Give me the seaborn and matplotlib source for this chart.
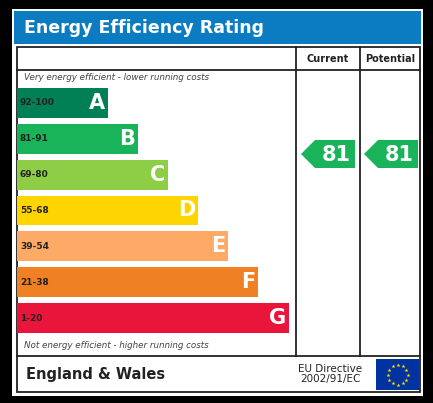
import matplotlib
matplotlib.use('Agg')
from matplotlib import pyplot as plt
from matplotlib.patches import Rectangle, Polygon
import seaborn as sns
import numpy as np

bands = ['A', 'B', 'C', 'D', 'E', 'F', 'G']
ranges = ['92-100', '81-91', '69-80', '55-68', '39-54', '21-38', '1-20']
bar_len = [91, 121, 151, 181, 211, 241, 272]
colors = ['#008054', '#19b459', '#8dce46', '#ffd500', '#fcaa65', '#ef8023', '#e9153b']
current = 81
potential = 81

W, H = 433, 403
fig = plt.figure(figsize=(W / 100, H / 100), dpi=100, facecolor='black')
ax = fig.add_axes([0, 0, 1, 1])
ax.set_xlim(0, W)
ax.set_ylim(H, 0)
ax.axis('off')

# white panel + blue header
ax.add_patch(Rectangle((12, 9), 411, 387, fc='white', ec='none'))
ax.add_patch(Rectangle((14, 11), 407, 33, fc='#0b7cc1', ec='none'))
ax.text(24, 28, 'Energy Efficiency Rating', color='white', fontsize=12.5, fontweight='bold', va='center')

# table frame
lw = 1.3
ax.add_patch(Rectangle((17, 47), 403, 345, fc='none', ec='#222', lw=lw))
ax.plot([296, 296], [47, 356], color='#222', lw=lw)
ax.plot([360, 360], [47, 356], color='#222', lw=lw)
ax.plot([17, 420], [70, 70], color='#222', lw=lw)
ax.plot([17, 420], [356, 356], color='#222', lw=lw)
ax.text(328, 59, 'Current', fontsize=7, fontweight='bold', ha='center', va='center', color='#222')
ax.text(390, 59, 'Potential', fontsize=7, fontweight='bold', ha='center', va='center', color='#222')
ax.text(24, 78, 'Very energy efficient - lower running costs', fontsize=6.3, style='italic', va='center', color='#444')
ax.text(24, 345, 'Not energy efficient - higher running costs', fontsize=6.3, style='italic', va='center', color='#444')

# bars via seaborn in a sub-axes
bx = fig.add_axes([17 / W, 1 - 336 / H, (296 - 17) / W, (336 - 85) / H])
sns.barplot(x=bar_len, y=bands, hue=bands, palette=colors, orient='h', width=0.83,
            saturation=1, legend=False, ax=bx)
bx.set_xlim(0, 279)
bx.axis('off')
for i, (b, r, L) in enumerate(zip(bands, ranges, bar_len)):
    bx.text(3, i, r, fontsize=6.5, fontweight='bold', va='center', color='#222')
    bx.text(L - 3, i, b, fontsize=15, fontweight='bold', va='center', ha='right', color='white')

# rating arrows
def arrow(x0, x1, y0, y1, val, col):
    tip = 14
    ax.add_patch(Polygon([(x0, (y0 + y1) / 2), (x0 + tip, y0), (x1, y0), (x1, y1), (x0 + tip, y1)],
                         closed=True, fc=col, ec='none'))
    ax.text((x0 + tip + x1) / 2 + 1, (y0 + y1) / 2 + 1, str(val), fontsize=15, fontweight='bold',
            color='white', ha='center', va='center')

idx = next(i for i, r in enumerate(ranges) if int(r.split('-')[0]) <= current)
arrow(301, 355, 140, 168, current, colors[idx])
idx = next(i for i, r in enumerate(ranges) if int(r.split('-')[0]) <= potential)
arrow(364, 418, 140, 168, potential, colors[idx])

# footer
ax.text(26, 374, 'England & Wales', fontsize=10.5, fontweight='bold', va='center', color='#222')
ax.text(330, 374, 'EU Directive\n2002/91/EC', fontsize=7.5, ha='center', va='center', color='#222', linespacing=1.1)
ax.add_patch(Rectangle((376, 359), 43, 31, fc='#0033a0', ec='none'))
ang = np.linspace(0, 2 * np.pi, 13)[:-1]
ax.scatter(397.5 + 10 * np.cos(ang), 374.5 + 10 * np.sin(ang), marker='*', s=9, color='#ffdd00', lw=0)

fig.savefig('out.png', dpi=100, facecolor='black')
